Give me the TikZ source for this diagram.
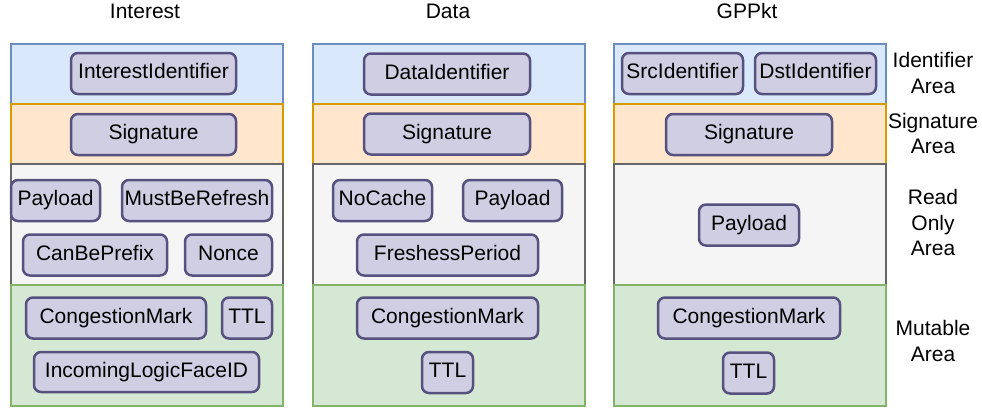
\documentclass[tikz,border=0pt]{standalone}
\usepackage{fontspec}
\setmainfont{Liberation Sans}
\usetikzlibrary{positioning}

\definecolor{idfill}{HTML}{DAE8FC}
\definecolor{idline}{HTML}{6C8EBF}
\definecolor{sigfill}{HTML}{FFE6CC}
\definecolor{sigline}{HTML}{D79B00}
\definecolor{rofill}{HTML}{F5F5F5}
\definecolor{roline}{HTML}{666666}
\definecolor{mutfill}{HTML}{D5E8D4}
\definecolor{mutline}{HTML}{82B366}
\definecolor{fieldfill}{HTML}{D0CEE2}
\definecolor{fieldline}{HTML}{56517E}

\begin{document}
\begin{tikzpicture}[x=1pt,y=-1pt,
		font=\fontsize{21}{25.5}\selectfont,
		area/.style={line width=2pt, inner sep=0pt, minimum width=272pt, anchor=north west},
		idarea/.style={area, draw=idline, fill=idfill, minimum height=60pt},
		sigarea/.style={area, draw=sigline, fill=sigfill, minimum height=60pt},
		roarea/.style={area, draw=roline, fill=rofill, minimum height=121pt},
		mutarea/.style={area, draw=mutline, fill=mutfill, minimum height=121pt},
		field/.style={draw=fieldline, fill=fieldfill, line width=2.5pt, rounded corners=7pt, inner sep=0pt,
			text height=15pt, text depth=5pt, minimum height=41pt},
		arealabel/.style={align=center}]
		\useasboundingbox (0,0) rectangle (982,410);
		% titles
		\node (inttitle) at (145,11) {Interest};
		\node (datatitle) at (448,11) {Data};
		\node (gpptitle) at (747,11) {GPPkt};
		% Interest
		\node [idarea] (intident) at (10,43) {};
		\node [sigarea] (intsig) at (10,103) {};
		\node [roarea] (intro) at (10,163) {};
		\node [mutarea] (intmut) at (10,284) {};
		\node [field, minimum width=165pt] (intidfield) at (153.5,73.5) {InterestIdentifier};
		\node [field, minimum width=165pt] (intsigfield) at (153.5,134.5) {Signature};
		\node [field, minimum width=89pt] (intpayload) at (55.5,200.5) {Payload};
		\node [field, minimum width=150pt] (intmust) at (197,200.5) {MustBeRefresh};
		\node [field, minimum width=144pt] (intcan) at (95,255) {CanBePrefix};
		\node [field, minimum width=87pt] (intnonce) at (228.5,255) {Nonce};
		\node [field, minimum width=180pt] (intcong) at (116,318) {CongestionMark};
		\node [field, minimum width=50pt] (intttl) at (247,318) {TTL};
		\node [field, minimum width=225pt, minimum height=40pt] (intface) at (146.5,372) {IncomingLogicFaceID};
		% Data
		\node [idarea] (dataident) at (311.5,43) {};
		\node [sigarea] (datasig) at (311.5,103) {};
		\node [roarea] (dataro) at (311.5,163) {};
		\node [mutarea] (datamut) at (311.5,284) {};
		\node [field, minimum width=166pt] (dataidfield) at (447,74) {DataIdentifier};
		\node [field, minimum width=166pt] (datasigfield) at (447,134) {Signature};
		\node [field, minimum width=99pt] (datanocache) at (382.5,200.5) {NoCache};
		\node [field, minimum width=99pt] (datapayload) at (512.5,200.5) {Payload};
		\node [field, minimum width=181pt] (datafresh) at (447.5,255) {FreshessPeriod};
		\node [field, minimum width=181pt] (datacong) at (447.5,318) {CongestionMark};
		\node [field, minimum width=51pt] (datattl) at (447.5,372.5) {TTL};
		% GPPkt
		\node [idarea] (gppident) at (613,43) {};
		\node [sigarea] (gppsig) at (613,103) {};
		\node [roarea] (gppro) at (613,163) {};
		\node [mutarea] (gppmut) at (613,284) {};
		\node [field, minimum width=121pt] (gppsrc) at (682.5,73.5) {SrcIdentifier};
		\node [field, minimum width=121pt] (gppdst) at (815.5,73.5) {DstIdentifier};
		\node [field, minimum width=166pt] (gppsigfield) at (749,134.5) {Signature};
		\node [field, minimum width=100pt] (gpppayload) at (749,225) {Payload};
		\node [field, minimum width=182pt] (gppcong) at (749,318) {CongestionMark};
		\node [field, minimum width=51pt] (gppttl) at (748.5,373) {TTL};
		% area names
		\node [arealabel] (idlabel) at (933,73) {Identifier\\Area};
		\node [arealabel] (siglabel) at (933,133.5) {Signature\\Area};
		\node [arealabel] (rolabel) at (933,222.5) {Read\\Only\\Area};
		\node [arealabel] (mutlabel) at (933,341) {Mutable\\Area};
\end{tikzpicture}
\end{document}
